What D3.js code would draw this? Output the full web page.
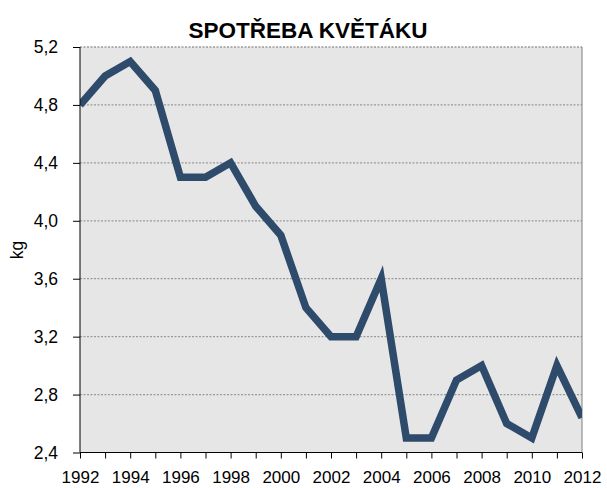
<!DOCTYPE html>
<html><head><meta charset="utf-8">
<script src="https://cdn.jsdelivr.net/npm/d3@7"></script>
<style>body{margin:0;background:#fff;} text{font-family:"Liberation Sans",Arial,sans-serif;}</style>
</head><body>
<svg id="c" width="607" height="488"></svg>
<script>
const years = [1992,1993,1994,1995,1996,1997,1998,1999,2000,2001,2002,2003,2004,2005,2006,2007,2008,2009,2010,2011,2012];
const values = [4.8,5.0,5.1,4.9,4.3,4.3,4.4,4.1,3.9,3.4,3.2,3.2,3.6,2.5,2.5,2.9,3.0,2.6,2.5,3.0,2.64];
const yTicks = [2.4,2.8,3.2,3.6,4.0,4.4,4.8,5.2];
const xLabels = [1992,1994,1996,1998,2000,2002,2004,2006,2008,2010,2012];
const title = "SPOTŘEBA KVĚTÁKU";
const yTitle = "kg";

const svg = d3.select("#c");
const L=80, R=582, T=47, B=452.5;
const x = d3.scaleLinear().domain([1992,2012]).range([L,R]);
const y = d3.scaleLinear().domain([2.4,5.2]).range([B,T]);

svg.append("rect").attr("x",L).attr("y",T).attr("width",R-L).attr("height",B-T).attr("fill","#e6e6e6");
svg.append("g").selectAll("line").data(yTicks.slice(1)).join("line")
  .attr("x1",L).attr("x2",R).attr("y1",d=>y(d)).attr("y2",d=>y(d))
  .attr("stroke","#9a9a9a").attr("stroke-width",1.3).attr("stroke-dasharray","2,1.5");
svg.append("line").attr("x1",R).attr("x2",R).attr("y1",T).attr("y2",B).attr("stroke","#808080").attr("stroke-width",1);

svg.append("clipPath").attr("id","cp").append("rect").attr("x",L).attr("y",T-10).attr("width",R-L).attr("height",B-T+10);
svg.append("path").datum(values.map((v,i)=>[years[i],v]))
  .attr("clip-path","url(#cp)")
  .attr("fill","none").attr("stroke","#2f4b6b").attr("stroke-width",7.5).attr("stroke-linejoin","miter")
  .attr("d",d3.line().x(d=>x(d[0])).y(d=>y(d[1])));

const ya = svg.append("g").attr("transform",`translate(${L},0)`)
  .call(d3.axisLeft(y).tickValues(yTicks).tickSize(7).tickPadding(15).tickFormat(d=>d3.format(".1f")(d).replace(".",",")));
ya.select(".domain").attr("stroke","#000").attr("d",`M0,${T}V${B}`);
ya.selectAll("line").attr("stroke","#000");
ya.selectAll("text").attr("font-size",17.5).attr("fill","#000").attr("font-family","Liberation Sans, Arial, sans-serif");

const xa = svg.append("g").attr("transform",`translate(0,${B})`)
  .call(d3.axisBottom(x).tickValues(years).tickSize(6).tickPadding(12).tickFormat(d=>xLabels.includes(d)?String(d):""));
xa.select(".domain").attr("stroke","#000").attr("d",`M${L},0H${R}`);
xa.selectAll("line").attr("stroke","#000");
xa.selectAll("text").attr("font-size",17).attr("fill","#000").attr("font-family","Liberation Sans, Arial, sans-serif");

svg.append("text").attr("x",308).attr("y",38).attr("text-anchor","middle").attr("font-size",22.5).attr("font-weight","bold").text(title);
svg.append("text").attr("transform","translate(23,250) rotate(-90)").attr("text-anchor","middle").attr("font-size",17.5).text(yTitle);
</script>
</body></html>
